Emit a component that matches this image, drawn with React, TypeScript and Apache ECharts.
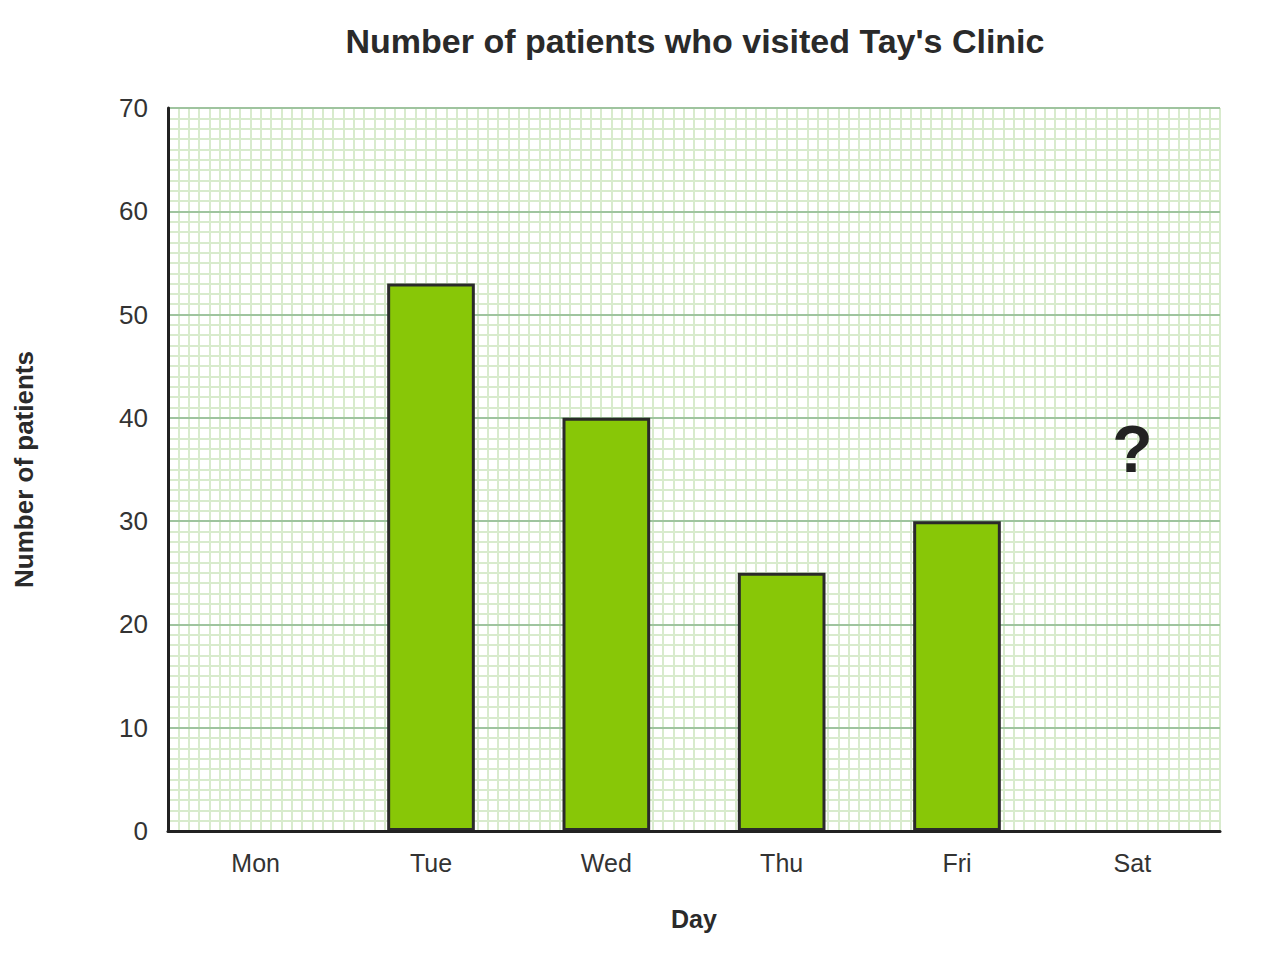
import React, { useEffect, useRef } from "react";
import * as echarts from "echarts";

const days = ["Mon", "Tue", "Wed", "Thu", "Fri", "Sat"];
const patients: (number | null)[] = [null, 53, 40, 25, 30, null];
const unknownDay = "Sat";
const unknownMarkY = 37;
const yTicks = [0, 10, 20, 30, 40, 50, 60, 70];

const FONT = "'Liberation Sans', Arial, sans-serif";

export default function App() {
  const ref = useRef<HTMLDivElement>(null);
  useEffect(() => {
    if (!ref.current) return;
    const chart = echarts.init(ref.current, undefined, { renderer: "svg" });
    const yMax = yTicks[yTicks.length - 1];
    const option: any = {
      animation: false,
      backgroundColor: "#ffffff",
      textStyle: { fontFamily: FONT },
      title: {
        text: "Number of patients who visited Tay's Clinic",
        left: 690,
        textAlign: "center",
        top: 19,
        textStyle: { fontFamily: FONT, fontSize: 34, fontWeight: "bold", color: "#2a2a2a" },
      },
      grid: { left: 168, right: 60, top: 108, bottom: 149, containLabel: false },
      xAxis: [
        {
          type: "category",
          data: days,
          name: "Day",
          nameLocation: "middle",
          nameGap: 75,
          nameTextStyle: { fontFamily: FONT, fontSize: 25, fontWeight: "bold", color: "#2a2a2a" },
          axisLine: { show: true, lineStyle: { color: "#222222", width: 3 } },
          axisTick: { show: false },
          axisLabel: { fontFamily: FONT, fontSize: 25, color: "#333333", margin: 19 },
          splitLine: { show: false },
          z: 4,
        },
        {
          type: "value",
          min: 0,
          max: 102,
          interval: 1,
          show: true,
          position: "top",
          axisLine: { show: false },
          axisTick: { show: false },
          axisLabel: { show: false },
          splitLine: { show: true, lineStyle: { color: "#d8ebcd", width: 2 } },
          z: 0,
        },
      ],
      yAxis: {
        type: "value",
        min: 0,
        max: yMax,
        interval: 10,
        name: "Number of patients",
        nameLocation: "middle",
        nameGap: 131,
        nameRotate: 90,
        nameTextStyle: { fontFamily: FONT, fontSize: 26, fontWeight: "bold", color: "#2a2a2a" },
        axisLine: { show: true, lineStyle: { color: "#222222", width: 3 } },
        axisTick: { show: false },
        axisLabel: { fontFamily: FONT, fontSize: 26, color: "#333333", margin: 20 },
        splitLine: { show: true, lineStyle: { color: "#9fc49f", width: 2 } },
        minorTick: { show: false, splitNumber: 10 },
        minorSplitLine: { show: true, lineStyle: { color: "#d8ebcd", width: 2 } },
        z: 1,
      },
      series: [
        {
          type: "bar",
          xAxisIndex: 0,
          data: patients,
          barWidth: "50%",
          itemStyle: { color: "#88c707", borderColor: "#2a2a2a", borderWidth: 3 },
          z: 3,
        },
        {
          type: "scatter",
          xAxisIndex: 0,
          data: [[unknownDay, unknownMarkY]],
          symbolSize: 0,
          itemStyle: { opacity: 1 },
          label: {
            show: true,
            position: "inside",
            formatter: "?",
            fontFamily: FONT,
            fontSize: 66,
            fontWeight: "bold",
            color: "#222222",
            opacity: 1,
          },
          z: 4,
        },
      ],
    };
    chart.setOption(option);
    return () => chart.dispose();
  }, []);
  return (
    <div
      ref={ref}
      style={{ position: "absolute", left: 0, top: 0, width: 1280, height: 980 }}
    />
  );
}
